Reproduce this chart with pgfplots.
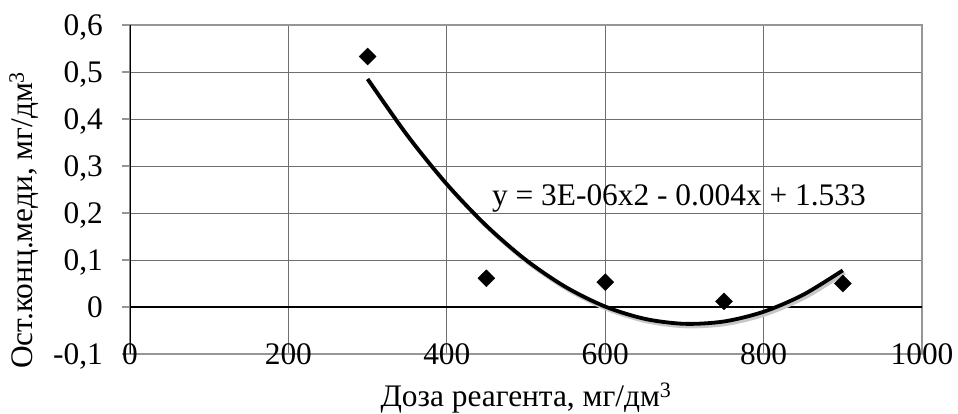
\documentclass[border=0pt]{standalone}
\usepackage{fontspec}
\setmainfont{Liberation Serif}
\usepackage{pgfplots}
\pgfplotsset{compat=1.18}
\definecolor{gridgray}{RGB}{110,110,110}
\definecolor{framegray}{RGB}{150,150,150}
\newcommand{\chartfont}{\fontsize{31.5}{38}\selectfont}

\begin{document}
\begin{tikzpicture}
\useasboundingbox (-130bp,-60bp) rectangle (828bp,354bp);
\begin{axis}[
  at={(0,0)}, anchor=south west,
  scale only axis, width=792bp, height=329bp,
  xmin=0, xmax=1000, ymin=-0.1, ymax=0.6,
  xtick={0,200,400,600,800,1000},
  ytick={-0.1,0,0.1,0.2,0.3,0.4,0.5,0.6},
  grid=major,
  major grid style={gridgray, line width=1bp},
  axis line style={framegray, line width=2.2bp},
  tick align=outside, major tick length=8bp,
  ytick pos=left,
  ytick style={framegray, line width=1.5bp},
  xtick style={draw=none},
  tick label style={font=\chartfont},
  xticklabel style={anchor=center, inner sep=0pt, yshift=8bp},
  yticklabel style={anchor=east, inner sep=0pt, text depth=0pt, xshift=-19bp},
  /pgf/number format/.cd, use comma, fixed, 1000 sep={}, assume math mode=true,
  /pgfplots/.cd,
  xlabel={Доза реагента, мг/дм\textsuperscript{3}},
  ylabel={Ост.конц.меди, мг/дм\textsuperscript{3}},
  xlabel style={font=\chartfont, at={(axis description cs:0.5,0)}, anchor=base, yshift=-52bp},
  ylabel style={font=\chartfont, at={(axis description cs:-0.1225,0.407)}, anchor=base},
]
\draw[black, line width=1.2bp] (axis cs:0,0) -- (axis cs:1000,0);
\draw[black, line width=1.2bp] (axis cs:0,-0.1) -- (axis cs:0,0.6);

% trendline shadow
\addplot[no marks, smooth, line width=4bp, black!22, xshift=2bp, yshift=-2.5bp] coordinates {
  (300,0.4851) (350,0.3654) (400,0.2613) (450,0.1729) (500,0.0999)
  (550,0.0426) (600,0.0009) (650,-0.0252) (700,-0.0358) (750,-0.0308)
  (800,-0.0101) (850,0.0261) (900,0.0779)
};
% trendline
\addplot[no marks, smooth, line width=3.8bp, black] coordinates {
  (300,0.4851) (350,0.3654) (400,0.2613) (450,0.1729) (500,0.0999)
  (550,0.0426) (600,0.0009) (650,-0.0252) (700,-0.0358) (750,-0.0308)
  (800,-0.0101) (850,0.0261) (900,0.0779)
};
% measured points
\addplot[only marks, mark=square*, mark size=6bp,
  mark options={rotate=45, fill=black, draw=black}] coordinates {
  (300,0.533) (450,0.061) (600,0.053) (750,0.012) (900,0.050)
};

\node[font=\chartfont, anchor=base west, inner sep=0pt] at (axis cs:457,0.217)
  {y = 3E-06x2 - 0.004x + 1.533};
\end{axis}
\end{tikzpicture}
\end{document}
